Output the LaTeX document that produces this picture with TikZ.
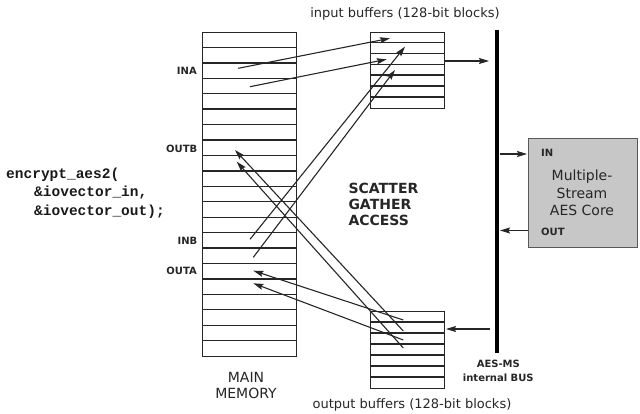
\documentclass[tikz,border=0pt]{standalone}
\usepackage{fontspec}
\setmainfont{DejaVu Sans}
\newfontfamily\codefont{Liberation Mono}
\usetikzlibrary{arrows.meta}
\begin{document}
\begin{tikzpicture}[x=1pt,y=-1pt,
  ln/.style={draw=black!85, line width=1.3pt},
  arr/.style={draw=black!85, line width=1.1pt, -{Stealth[length=10pt,width=6pt,inset=1.5pt]}},
  lbl/.style={font=\fontsize{10}{12}\selectfont\bfseries, text=black!85, inner sep=0pt},
  txt/.style={inner sep=0pt, text=black!85},
  code/.style={inner sep=0pt, text=black!90, font=\codefont\bfseries\fontsize{14.5}{16}\selectfont, anchor=base west},
]
\useasboundingbox (0,0) rectangle (640,414);

% main memory
\node[ln, minimum width=94pt, minimum height=324pt, inner sep=0pt, anchor=north west] (mem) at (202,32) {};
\foreach \i in {1,...,20} {\draw[ln] (202,{32+\i*15.43}) -- (296,{32+\i*15.43});}

% input buffer
\node[ln, minimum width=74pt, minimum height=76pt, inner sep=0pt, anchor=north west] (inbuf) at (370,31.7) {};
\foreach \i in {1,...,6} {\draw[ln] (370,{31.7+\i*10.86}) -- (444,{31.7+\i*10.86});}

% output buffer
\node[ln, minimum width=74pt, minimum height=77pt, inner sep=0pt, anchor=north west] (outbuf) at (370,311) {};
\foreach \i in {1,...,6} {\draw[ln] (370,{311+\i*11}) -- (444,{311+\i*11});}

% bus
\node[fill=black, minimum width=4.5pt, minimum height=323pt, inner sep=0pt] (bus) at (497,191.5) {};

% core
\node[draw=black!65, fill=black!22, line width=1.2pt, minimum width=109pt, minimum height=109pt, inner sep=0pt, anchor=north west] (core) at (528,138) {};

% arrow endpoints
\coordinate (a1s) at (238.3,68.3);  \coordinate (a1e) at (390,38.3);
\coordinate (a2s) at (250,86.7);    \coordinate (a2e) at (386.7,59.3);
\coordinate (a3s) at (250,239.3);   \coordinate (a3e) at (405,46.7);
\coordinate (a4s) at (253.3,257.3); \coordinate (a4e) at (395,70);
\coordinate (a5s) at (403.3,331);   \coordinate (a5e) at (235,150);
\coordinate (a6s) at (403.3,348);   \coordinate (a6e) at (236.7,161.7);
\coordinate (a7s) at (403.3,320);   \coordinate (a7e) at (253.3,270.7);
\coordinate (a8s) at (403.3,340);   \coordinate (a8e) at (253.3,283.3);

\draw[arr] (a1s) -- (a1e);
\draw[arr] (a2s) -- (a2e);
\draw[arr] (a3s) -- (a3e);
\draw[arr] (a4s) -- (a4e);
\draw[arr] (a5s) -- (a5e);
\draw[arr] (a6s) -- (a6e);
\draw[arr] (a7s) -- (a7e);
\draw[arr] (a8s) -- (a8e);

\coordinate (ib) at (444,61);   \coordinate (ibb) at (489,61);
\coordinate (ob) at (490,329);  \coordinate (obb) at (446,329);
\coordinate (ci) at (499.5,154); \coordinate (cin) at (527,154);
\coordinate (co) at (528,230.5); \coordinate (cob) at (500,230.5);
\draw[arr] (ib) -- (ibb);
\draw[arr] (ob) -- (obb);
\draw[arr] (ci) -- (cin);
\draw[arr] (co) -- (cob);

% texts
\node[txt, anchor=base, font=\fontsize{13}{15}\selectfont] (tin) at (405,17.3) {input buffers (128-bit blocks)};
\node[txt, anchor=base, font=\fontsize{13}{15}\selectfont] (tout) at (412,408.3) {output buffers (128-bit blocks)};
\node[txt, anchor=base, font=\fontsize{14}{16}\selectfont] (mm1) at (246,382) {MAIN};
\node[txt, anchor=base, font=\fontsize{14}{16}\selectfont] (mm2) at (246,398.3) {MEMORY};
\node[txt, anchor=base west, font=\fontsize{14}{16}\selectfont\bfseries] (sg1) at (348.3,193.3) {SCATTER};
\node[txt, anchor=base west, font=\fontsize{14}{16}\selectfont\bfseries] (sg2) at (348.3,209.3) {GATHER};
\node[txt, anchor=base west, font=\fontsize{14}{16}\selectfont\bfseries] (sg3) at (348.3,225.5) {ACCESS};
\node[lbl, anchor=base] (bl1) at (498.3,367.7) {AES-MS};
\node[lbl, anchor=base] (bl2) at (498.3,381.7) {internal BUS};
\node[lbl, anchor=base east] (lina) at (197,75) {INA};
\node[lbl, anchor=base east] (loutb) at (197.5,152.3) {OUTB};
\node[lbl, anchor=base east] (linb) at (197.5,245) {INB};
\node[lbl, anchor=base east] (louta) at (197,275) {OUTA};
\node[lbl, anchor=base west] (cinl) at (541,156.7) {IN};
\node[lbl, anchor=base west] (coutl) at (541,236) {OUT};
\node[txt, anchor=base, font=\fontsize{14}{16}\selectfont] (cc1) at (582,180.7) {Multiple-};
\node[txt, anchor=base, font=\fontsize{14}{16}\selectfont] (cc2) at (582,198.3) {Stream};
\node[txt, anchor=base, font=\fontsize{14}{16}\selectfont] (cc3) at (582,215.3) {AES Core};
\node[code] (c1) at (6,178.3) {encrypt\_aes2(};
\node[code] (c2) at (34,196.7) {\&iovector\_in,};
\node[code] (c3) at (34,215.7) {\&iovector\_out);};
\end{tikzpicture}
\end{document}
